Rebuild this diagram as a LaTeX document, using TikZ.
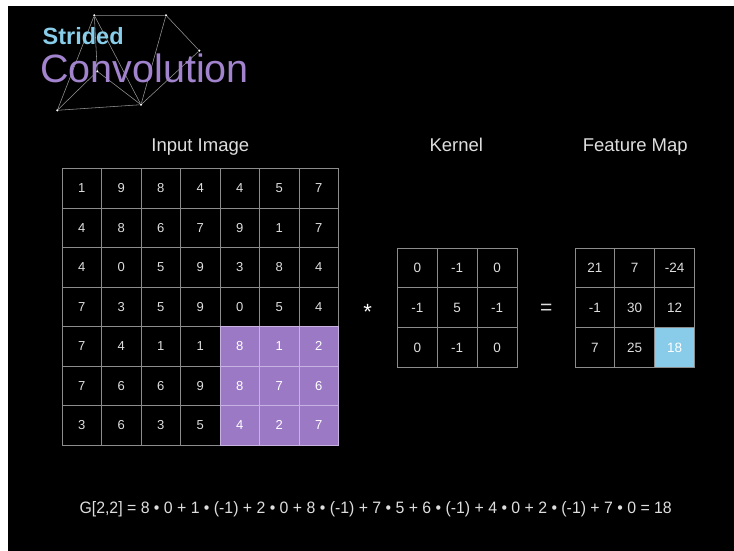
\documentclass[tikz,border=0pt]{standalone}
\usepackage{fontspec}
\setmainfont{Liberation Sans}
\begin{document}
\begin{tikzpicture}[x=1pt,y=-1pt,
  lbl/.style={text=txtgray,inner sep=0,font=\fontsize{18.5}{20}\selectfont},
  cell/.style={draw=gridgray,line width=0.8pt,minimum size=39.5pt,inner sep=0,
    text=txtgray,font=\fontsize{13}{14}\selectfont},
  hlcell/.style={cell,fill=hlpurple,draw=hlline,text=white},
  kcell/.style={cell,minimum size=39.8pt,font=\fontsize{13.5}{15}\selectfont},
  fhcell/.style={kcell,fill=hlblue,text=white},
  net/.style={draw=netgray,line width=0.55pt},
  dot/.style={circle,fill=white,inner sep=0,minimum size=2.4pt}]
\definecolor{txtgray}{HTML}{DEDEDE}
\definecolor{gridgray}{HTML}{8C8C8C}
\definecolor{hlpurple}{HTML}{9B79C5}
\definecolor{hlline}{HTML}{C7B2E2}
\definecolor{hlblue}{HTML}{88CCE9}
\definecolor{netgray}{HTML}{959595}
\definecolor{titleblue}{HTML}{88CDEA}
\definecolor{titlepurple}{HTML}{A283CD}
\useasboundingbox (0,0) rectangle (734,551);
\fill[white] (0,0) rectangle (734,551);
\fill[black] (8,6) rectangle (734,551);

% decorative network behind the title
\node[dot] (p1) at (94.3,15.3) {};
\node[dot] (p2) at (166,15.3) {};
\node[dot] (p3) at (199.3,50.7) {};
\node[dot] (p4) at (97.3,71.3) {};
\node[dot] (p5) at (57.3,110.3) {};
\node[dot] (p6) at (141,104.7) {};
\draw[net] (p1) -- (p2) -- (p3) -- (p6) -- (p5) -- (p1) -- (p4) -- (p5);
\draw[net] (p1) -- (p6) (p2) -- (p6) (p4) -- (p6);

% title
\node[anchor=base west,inner sep=0,text=titleblue,font=\fontsize{23.5}{25}\selectfont\bfseries] (t1) at (42.5,44.5) {Strided};
\node[anchor=base west,inner sep=0,text=titlepurple,font=\fontsize{39.5}{41}\selectfont] (t2) at (40,82) {Convolution};

% headings
\node[lbl,anchor=base] (hin) at (200.3,151) {Input Image};
\node[lbl,anchor=base] (hk) at (456.3,151) {Kernel};
\node[lbl,anchor=base] (hf) at (635.3,151) {Feature Map};

% input image, strided window in the lower right
\foreach \rowvals [count=\r] in {{1,9,8,4,4,5,7},{4,8,6,7,9,1,7},{4,0,5,9,3,8,4},{7,3,5,9,0,5,4},{7,4,1,1,8,1,2},{7,6,6,9,8,7,6},{3,6,3,5,4,2,7}}{
  \foreach \v [count=\c] in \rowvals {
    \pgfmathtruncatemacro\hl{and(\r>4,\c>4)}
    \ifnum\hl=1 \def\sty{hlcell}\else\def\sty{cell}\fi
    \node[\sty] (in-\r-\c) at ({62+39.5*(\c-0.5)},{168.5+39.5*(\r-0.5)}) {\v};
  }
}

% kernel
\foreach \rowvals [count=\r] in {{0,-1,0},{-1,5,-1},{0,-1,0}}{
  \foreach \v [count=\c] in \rowvals {
    \node[kcell] (k-\r-\c) at ({397.5+39.83*(\c-0.5)},{248+39.83*(\r-0.5)}) {\v};
  }
}

% feature map
\foreach \rowvals [count=\r] in {{21,7,-24},{-1,30,12},{7,25,18}}{
  \foreach \v [count=\c] in \rowvals {
    \pgfmathtruncatemacro\hl{and(\r>2,\c>2)}
    \ifnum\hl=1 \def\sty{fhcell}\else\def\sty{kcell}\fi
    \node[\sty] (f-\r-\c) at ({575+39.83*(\c-0.5)},{248+39.83*(\r-0.5)}) {\v};
  }
}

% operators (the asterisk glyph sits high in its box)
\node[inner sep=0,text=white,font=\fontsize{22}{23}\selectfont] (op1) at (367.7,312) {*};
\node[inner sep=0,text=txtgray,font=\fontsize{21}{22}\selectfont] (op2) at (546.3,309) {=};

% worked value for the highlighted output
\node[inner sep=0,text=txtgray,font=\fontsize{16.5}{18}\selectfont] (eq) at (375.7,509.5) {\scalebox{0.96}[1]{G[2,2] = 8 • 0 + 1 • (-1) + 2 • 0 + 8 • (-1) + 7 • 5 + 6 • (-1) + 4 • 0 + 2 • (-1) + 7 • 0 = 18}};
\end{tikzpicture}
\end{document}
